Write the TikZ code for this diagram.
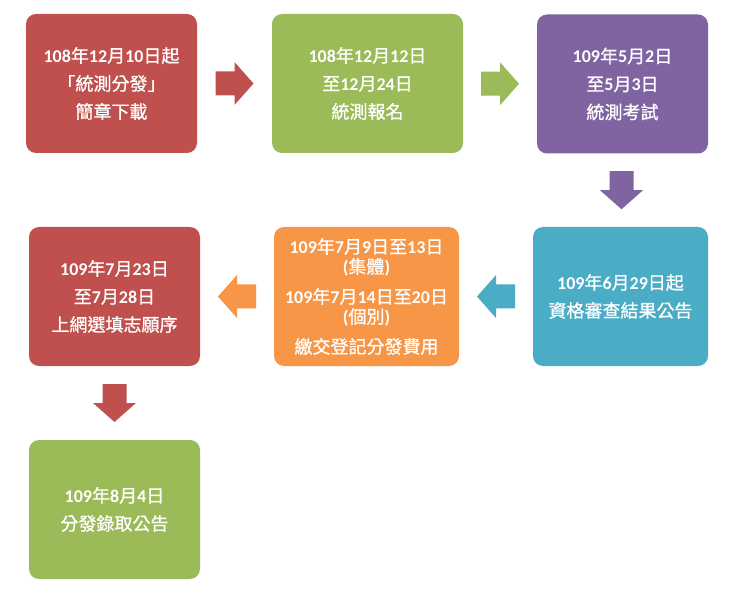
\documentclass[tikz,border=0pt]{standalone}
\usepackage{fontspec}
\setmainfont{Noto Sans CJK TC}[FakeBold=0.8]
\newfontfamily\numfont{Carlito}
\newcommand\nb[1]{{\numfont\bfseries #1}}
\usetikzlibrary{calc}
\definecolor{cred}{HTML}{C0504D}
\definecolor{cgreen}{HTML}{9BBB59}
\definecolor{cpurple}{HTML}{8064A2}
\definecolor{ccyan}{HTML}{4BACC6}
\definecolor{corange}{HTML}{F79646}
\begin{document}
\begin{tikzpicture}[x=1pt,y=-1pt,
  box/.style={rectangle,rounded corners=10pt,fill=#1,draw=none,text=white,
    inner sep=0pt,align=center,minimum height=139pt,
    font=\fontsize{18}{28}\selectfont},
  pics/barrow/.style={code={
    \fill[#1] (-19,-12) -- (0,-12) -- (0,-21.5) -- (19,0) -- (0,21.5)
      -- (0,12) -- (-19,12) -- cycle;}}]
\fill[white] (0,0) rectangle (737,596);
\useasboundingbox (0,0) rectangle (737,596);

\node[box=cred,minimum width=171pt] (b1) at (111.5,83.5)
  {\nb{108}年\nb{12}月\nb{10}日起\\「統測分發」\\簡章下載};
\node[box=cgreen,minimum width=191pt] (b2) at (367.5,83.5)
  {\nb{108}年\nb{12}月\nb{12}日\\至\nb{12}月\nb{24}日\\統測報名};
\node[box=cpurple,minimum width=171pt] (b3) at (622.5,84)
  {\nb{109}年\nb{5}月\nb{2}日\\至\nb{5}月\nb{3}日\\統測考試};
\node[box=ccyan,minimum width=175pt] (b4) at (620.5,296.5)
  {\nb{109}年\nb{6}月\nb{29}日起\\資格審查結果公告};
\node[box=corange,minimum width=185pt,font=\fontsize{18}{20}\selectfont] (b5) at (366.5,296.5)
  {\nb{109}年\nb{7}月\nb{9}日至\nb{13}日\\\nb{(}集體\nb{)}\\[10pt]\nb{109}年\nb{7}月\nb{14}日至\nb{20}日\\\nb{(}個別\nb{)}\\[10pt]繳交登記分發費用};
\node[box=cred,minimum width=171pt] (b6) at (114.5,296.5)
  {\nb{109}年\nb{7}月\nb{23}日\\至\nb{7}月\nb{28}日\\上網選填志願序};
\node[box=cgreen,minimum width=171pt] (b7) at (114.5,509.5)
  {\nb{109}年\nb{8}月\nb{4}日\\分發錄取公告};

\pic at ($(b1.east)!0.5!(b2.west)$) {barrow=cred};
\pic at ($(b2.east)!0.5!(b3.west)$) {barrow=cgreen};
\pic[rotate=-90] at ($(b3.south)!0.5!(b4.north)$) {barrow=cpurple};
\pic[rotate=180] at ($(b4.west)!0.5!(b5.east)$) {barrow=ccyan};
\pic[rotate=180] at ($(b5.west)!0.5!(b6.east)$) {barrow=corange};
\pic[rotate=-90] at ($(b6.south)!0.5!(b7.north)$) {barrow=cred};
\end{tikzpicture}
\end{document}
